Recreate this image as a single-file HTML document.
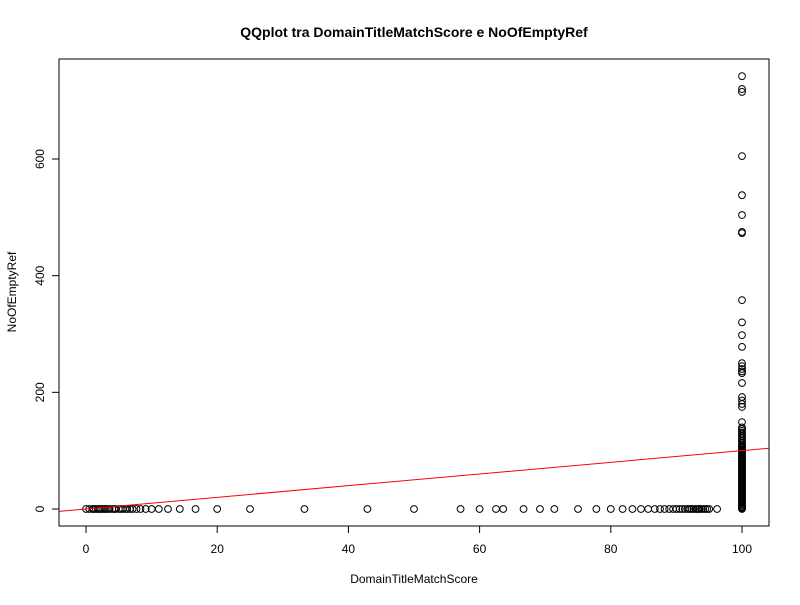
<!DOCTYPE html>
<html><head><meta charset="utf-8"><style>
body{margin:0;background:#fff}
text{font-family:"Liberation Sans",Arial,sans-serif;fill:#000}
</style></head><body>
<svg id="chart" width="800" height="600" xmlns="http://www.w3.org/2000/svg">
<rect width="800" height="600" fill="#fff"/>
<text x="414" y="37" text-anchor="middle" font-size="14" font-weight="bold">QQplot tra DomainTitleMatchScore e NoOfEmptyRef</text>
<rect x="59" y="59" width="710" height="467" fill="none" stroke="#000" stroke-width="1"/>
<g id="axes"></g>
<g id="points"></g>
<text x="414" y="583" text-anchor="middle" font-size="12">DomainTitleMatchScore</text>
<text transform="translate(16,292) rotate(-90)" text-anchor="middle" font-size="12">NoOfEmptyRef</text>
</svg>
<script>
const xTicks=[0,20,40,60,80,100];
const yTicks=[0,200,400,600];
const bottomX=[0,0.5,1,1.2,1.5,1.8,2,2.2,2.5,2.8,3,3.3,3.6,4,4.3,4.5,5,5.3,5.6,6,6.3,6.7,7.1,7.7,8.3,9.1,10,11.1,12.5,14.3,16.7,20,25,33.3,42.9,50,57.1,60,62.5,63.6,66.7,69.2,71.4,75,77.8,80,81.8,83.3,84.6,85.7,86.7,87.5,88.2,88.9,89.5,90,90.5,90.9,91.3,91.7,92,92.3,92.6,92.9,93.1,93.3,93.5,93.8,94.1,94.4,94.7,95,96.2];
const rightY=[742,720,715,605,538,504,475,473,358,320,298,278,250,245,240,236,233,216,192,186,180,175,149,140,137,134,131,128,125,122,119,116,113,110,108,106,104,102,100,98,96,94,92,90,88,86,84,82,80,78,76,74,72,70,68,66,64,62,60,58,56,54,52,50,48,46,44,42,40,38,36,34,32,30,28,26,24,22,20,18,16,14,12,10,8,6,4,3,2,1,0];
const lineIntercept=0, lineSlope=1;
const X0=86,XS=6.56,Y0=509,YS=0.5833;
const sx=v=>X0+v*XS, sy=v=>Y0-v*YS;
const NS="http://www.w3.org/2000/svg";
const ax=document.getElementById('axes'),pts=document.getElementById('points');
function mk(tag,attrs,parent,txt){const e=document.createElementNS(NS,tag);for(const k in attrs)e.setAttribute(k,attrs[k]);if(txt!==undefined)e.textContent=txt;parent.appendChild(e);return e;}
let l=mk('line',{x1:sx(0),x2:sx(100),y1:526,y2:526,stroke:'#000'},ax);


xTicks.forEach(t=>{const g=mk('g',{},ax);


mk('line',{x1:sx(t),x2:sx(t),y1:526,y2:533,stroke:'#000'},g);
mk('text',{x:sx(t),y:553,'text-anchor':'middle','font-size':12},g,t);});
l=mk('line',{x1:59,x2:59,y1:sy(0),y2:sy(600),stroke:'#000'},ax);


yTicks.forEach(t=>{const g=mk('g',{},ax);


mk('line',{x1:52,x2:59,y1:sy(t),y2:sy(t),stroke:'#000'},g);
mk('text',{transform:`translate(44,${sy(t)}) rotate(-90)`,'text-anchor':'middle','font-size':12},g,t);});
bottomX.forEach(v=>{const c=mk('circle',{cx:sx(v),cy:sy(0),r:3.4,fill:'none',stroke:'#000','stroke-width':1},pts);

});
rightY.forEach(v=>{const c=mk('circle',{cx:sx(100),cy:sy(v),r:3.4,fill:'none',stroke:'#000','stroke-width':1},pts);

});
const xa=-4.1,xb=104.1;
l=mk('line',{x1:sx(xa),y1:sy(lineIntercept+lineSlope*xa),x2:sx(xb),y2:sy(lineIntercept+lineSlope*xb),stroke:'#ff0000','stroke-width':1},pts);


</script>
</body></html>
